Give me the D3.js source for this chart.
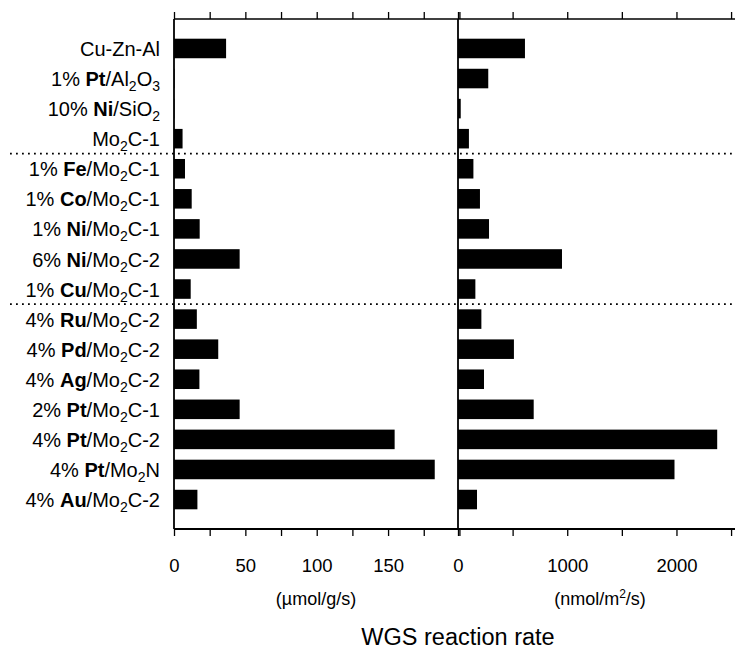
<!DOCTYPE html>
<html>
<head>
<meta charset="utf-8">
<script src="https://cdn.jsdelivr.net/npm/d3@7"></script>
<style>
  body { margin: 0; background: #fff; }
  svg text { font-family: "Liberation Sans", Arial, Helvetica, sans-serif; fill: #000; }
</style>
</head>
<body>
<svg width="735" height="652"></svg>
<script>
// catalyst names: loading + (bold) metal + support, "_2" means subscript 2
const loadings = ["", "1%", "10%", "", "1%", "1%", "1%", "6%", "1%", "4%", "4%", "4%", "2%", "4%", "4%", "4%"];
const metals = ["", "Pt", "Ni", "", "Fe", "Co", "Ni", "Ni", "Cu", "Ru", "Pd", "Ag", "Pt", "Pt", "Pt", "Au"];
const supports = ["Cu-Zn-Al", "Al_2O_3", "SiO_2", "Mo_2C-1", "Mo_2C-1", "Mo_2C-1", "Mo_2C-1", "Mo_2C-2",
                  "Mo_2C-1", "Mo_2C-2", "Mo_2C-2", "Mo_2C-2", "Mo_2C-1", "Mo_2C-2", "Mo_2N", "Mo_2C-2"];

// WGS rates
const ratePerGram = [36.5, 0.4, 0.3, 6, 7.7, 12.4, 18, 46, 11.7, 16, 31, 17.8, 46, 154.6, 182.7, 16.4];   // umol/g/s
const ratePerArea = [613, 277, 25, 100, 141, 201, 284, 952, 159, 214, 512, 238, 693, 2373, 1982, 174];  // nmol/m2/s

const gramTicks = d3.range(0, 201, 25);
const gramLabels = [0, 50, 100, 150];
const areaTicks = d3.range(0, 2600, 500);
const areaLabels = [0, 1000, 2000];
const separatorsAfter = [3, 8];   // dotted lines below these rows

const svg = d3.select('svg');
const yTop = 19, yBottom = 529;
const idx = d3.range(supports.length);

const y = d3.scaleBand()
    .domain(idx)
    .range([yTop, yBottom])
    .paddingInner(0.35)
    .paddingOuter(0.655);

const xGram = d3.scaleLinear().domain([0, 199]).range([174, 458]);
const xArea = d3.scaleLinear().domain([0, 2600]).range([458, 742]);

// one panel = bars + frame + top/bottom axes
function panel(x, values, ticks, labels) {
    const g = svg.append('g');
    g.selectAll('rect.bar')
        .data(values)
        .enter().append('rect')
        .attr('class', 'bar')
        .attr('x', x(0))
        .attr('y', (d, i) => y(i))
        .attr('width', d => x(d) - x(0))
        .attr('height', y.bandwidth())
        .attr('fill', '#000');

    const axTop = d3.axisTop(x).tickValues(ticks).tickSize(7).tickSizeOuter(0).tickFormat('');
    const axBot = d3.axisBottom(x).tickValues(ticks).tickSize(7).tickSizeOuter(0).tickPadding(23)
        .tickFormat(d => labels.includes(d) ? d : '');

    const gt = g.append('g').attr('transform', 'translate(0,' + yTop + ')').call(axTop);
    const gb = g.append('g').attr('transform', 'translate(0,' + yBottom + ')').call(axBot);
    [gt, gb].forEach(a => {
        a.select('.domain').remove();
        a.selectAll('line').attr('stroke', '#000').attr('stroke-width', 1.3);
        a.selectAll('text').style('font-size', '18.5px').attr('fill', '#000');
    });
    // frame lines
    const x0 = x.range()[0], x1 = x.range()[1];
    const frame = [[x0, yTop, x1, yTop, 1.6], [x0, yBottom, x1, yBottom, 2], [x0, yTop, x0, yBottom, 1.8]];
    g.selectAll('line.frame')
        .data(frame)
        .enter().append('line')
        .attr('class', 'frame')
        .attr('x1', d => d[0]).attr('y1', d => d[1])
        .attr('x2', d => d[2]).attr('y2', d => d[3])
        .attr('stroke', '#000')
        .attr('stroke-width', d => d[4]);
    return g;
}

panel(xGram, ratePerGram, gramTicks, gramLabels);
panel(xArea, ratePerArea, areaTicks, areaLabels);

// dotted separators
separatorsAfter.forEach(i => {
    const yy = (y(i) + y.bandwidth() + y(i + 1)) / 2;
    svg.append('line')
        .attr('x1', 10).attr('x2', 735)
        .attr('y1', yy).attr('y2', yy)
        .attr('stroke', '#000')
        .attr('stroke-width', 1.8)
        .attr('stroke-dasharray', '1.8,4.2');
});

// category labels with bold metal and subscripts
idx.forEach(i => {
    const t = svg.append('text')
        .attr('x', 160)
        .attr('y', y(i) + y.bandwidth() / 2)
        .attr('dy', '0.38em')
        .attr('text-anchor', 'end')
        .style('font-size', '20px');
    if (loadings[i]) t.append('tspan').text(loadings[i] + ' ');
    if (metals[i]) {
        t.append('tspan').attr('font-weight', 'bold').text(metals[i]);
        t.append('tspan').text('/');
    }
    const parts = supports[i].split(/_(\d)/);
    let shifted = false;
    parts.forEach((p, k) => {
        if (!p) return;
        const s = t.append('tspan').text(p);
        if (k % 2 === 1) {
            s.style('font-size', '14px').attr('dy', 5);
            shifted = true;
        } else if (shifted) {
            s.attr('dy', -5);
            shifted = false;
        }
    });
});

// unit labels and title
svg.append('text').attr('x', 316).attr('y', 605).attr('text-anchor', 'middle')
    .style('font-size', '18px').text('(\u00b5mol/g/s)');
const areaUnit = svg.append('text').attr('x', 600).attr('y', 605).attr('text-anchor', 'middle')
    .style('font-size', '18px');
areaUnit.append('tspan').text('(nmol/m');
areaUnit.append('tspan').style('font-size', '12px').attr('dy', -7).text('2');
areaUnit.append('tspan').attr('dy', 7).text('/s)');

svg.append('text').attr('x', 458).attr('y', 645).attr('text-anchor', 'middle')
    .style('font-size', '23.5px').text('WGS reaction rate');
</script>
</body>
</html>
